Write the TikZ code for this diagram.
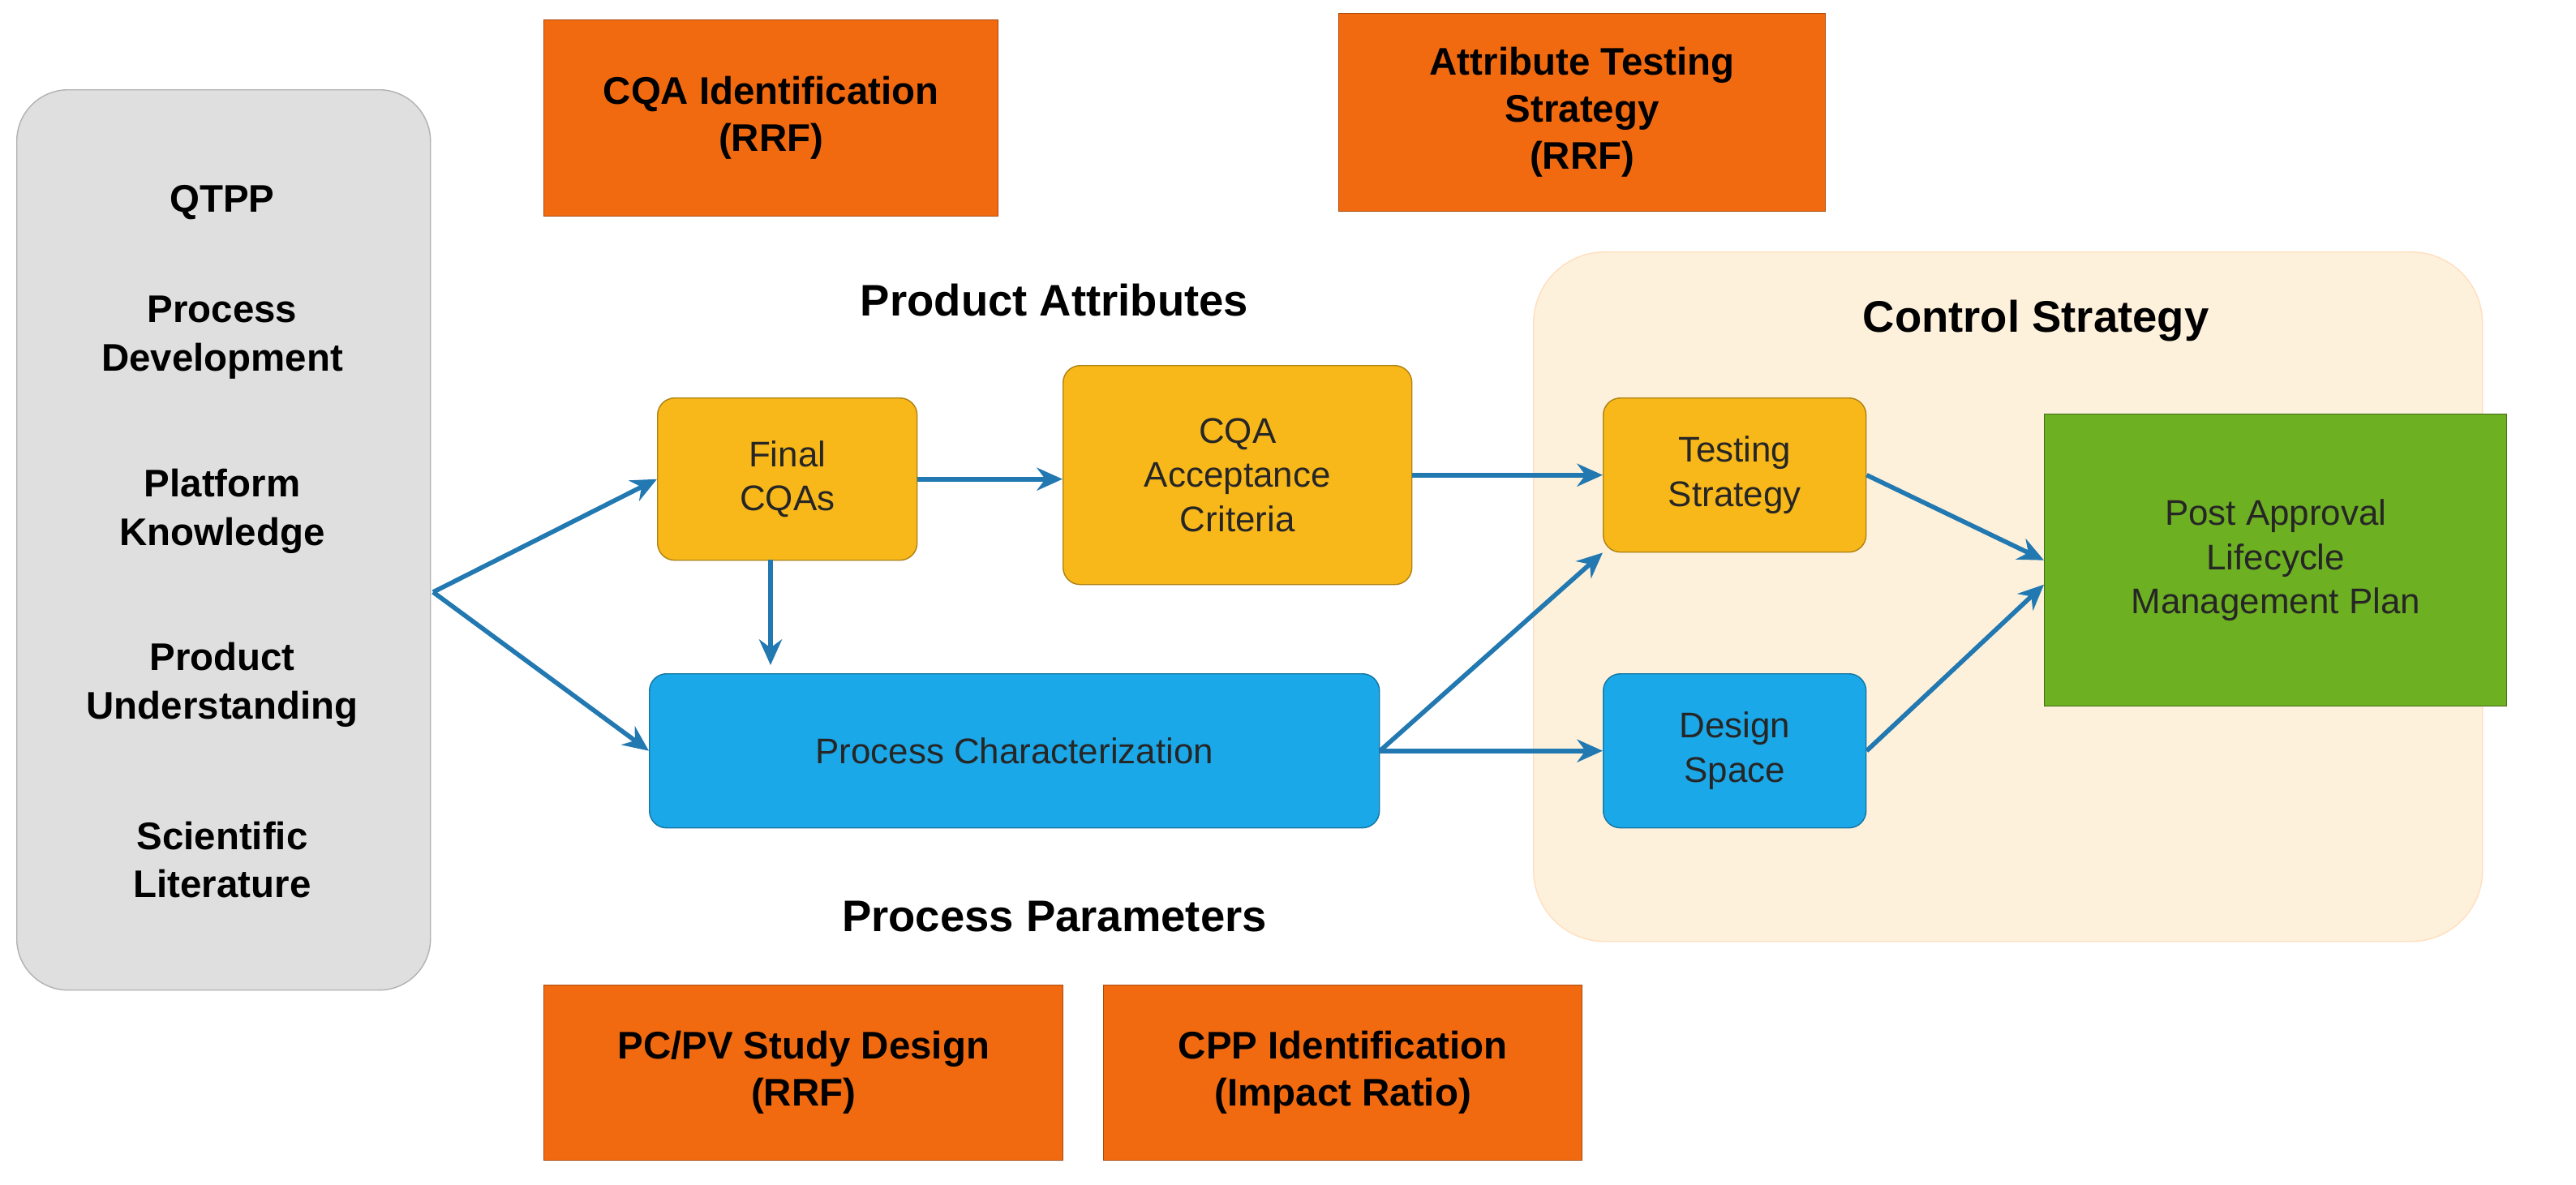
\documentclass[tikz,border=0pt]{standalone}
\usepackage{fontspec}
\setmainfont{Liberation Sans}
\usetikzlibrary{arrows.meta}
\definecolor{orng}{HTML}{F26A10}
\definecolor{ylw}{HTML}{F9B81A}
\definecolor{blu}{HTML}{1BA8E8}
\definecolor{grn}{HTML}{6DB022}
\definecolor{arr}{HTML}{2278B0}
\begin{document}
\begin{tikzpicture}[x=0.02cm,y=-0.02cm,
  rrf/.style={draw=orng!70!black,fill=orng,align=center,font=\fontsize{13.5}{16.5}\selectfont\bfseries,anchor=north west},
  ybox/.style={draw=ylw!70!black,fill=ylw,rounded corners=6pt,align=center,font=\fontsize{12.5}{15.5}\selectfont,text=black!85,anchor=north west},
  bbox/.style={draw=blu!70!black,fill=blu,rounded corners=6pt,align=center,font=\fontsize{12.5}{15.5}\selectfont,text=black!85,anchor=north west},
  gbox/.style={draw=grn!60!black,fill=grn,align=center,font=\fontsize{12.5}{15.5}\selectfont,text=black!85,anchor=north west},
  lbl/.style={font=\fontsize{15.5}{18}\selectfont\bfseries},
  gl/.style={font=\fontsize{13.5}{17}\selectfont\bfseries,align=center},
  ar/.style={draw=arr,line width=1.6pt,-{Stealth[length=9pt,width=8pt]}}]
\useasboundingbox[fill=white] (0,0) rectangle (1588,730);
% gray
\node[draw=gray!60,fill=gray!25,rounded corners=18pt,minimum width=255*0.02cm,minimum height=555*0.02cm,anchor=north west] (gray) at (10,55) {};
\node[gl] (g1) at (137,125) {QTPP};
\node[gl] (g2) at (137,208) {Process\\Development};
\node[gl] (g3) at (137,315) {Platform\\Knowledge};
\node[gl] (g4) at (137,422) {Product\\Understanding};
\node[gl] (g5) at (137,530) {Scientific\\Literature};
% orange
\node[rrf,minimum width=280*0.02cm,minimum height=121*0.02cm] (o1) at (335,12) {CQA Identification\\(RRF)};
\node[rrf,minimum width=300*0.02cm,minimum height=122*0.02cm] (o2) at (825,8) {Attribute Testing\\Strategy\\(RRF)};
\node[rrf,minimum width=320*0.02cm,minimum height=108*0.02cm] (o3) at (335,607) {PC/PV Study Design\\(RRF)};
\node[rrf,minimum width=295*0.02cm,minimum height=108*0.02cm] (o4) at (680,607) {CPP Identification\\(Impact Ratio)};
% control strategy
\node[fill=yellow!18!orange!12,draw=orange!25,rounded corners=25pt,minimum width=585*0.02cm,minimum height=425*0.02cm,anchor=north west] (cs) at (945,155) {};
\node[lbl] (cst) at (1255,198) {Control Strategy};
\node[lbl] (pa) at (650,185) {Product Attributes};
\node[lbl] (pp) at (650,565) {Process Parameters};
% boxes
\node[ybox,minimum width=160*0.02cm,minimum height=100*0.02cm] (fc) at (405,245) {Final\\CQAs};
\node[ybox,minimum width=215*0.02cm,minimum height=135*0.02cm] (ca) at (655,225) {CQA\\Acceptance\\Criteria};
\node[bbox,minimum width=450*0.02cm,minimum height=95*0.02cm] (pc) at (400,415) {Process Characterization};
\node[ybox,minimum width=162*0.02cm,minimum height=95*0.02cm] (ts) at (988,245) {Testing\\Strategy};
\node[bbox,minimum width=162*0.02cm,minimum height=95*0.02cm] (ds) at (988,415) {Design\\Space};
\node[gbox,minimum width=285*0.02cm,minimum height=180*0.02cm] (pl) at (1260,255) {Post Approval\\Lifecycle\\Management Plan};
% arrows
\coordinate (gs) at (267,365);
\draw[ar] (gs) -- (fc.west);
\draw[ar] (gs) -- (pc.west);
\draw[ar] (fc.east) -- (fc.east -| ca.west);
\draw[ar] (475,345) -- (475,410);
\draw[ar] (ca.east) -- (ts.west);
\draw[ar] (pc.east) -- (ts.south west);
\draw[ar] (pc.east) -- (ds.west);
\draw[ar] (ts.east) -- (pl.west);
\draw[ar] (ds.east) -- ([yshift=-0.3cm]pl.west);
\end{tikzpicture}
\end{document}
